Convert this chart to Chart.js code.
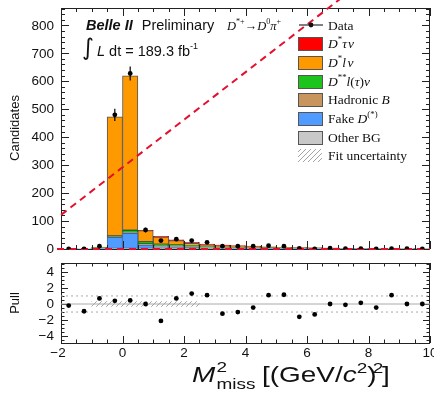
<!DOCTYPE html>
<html>
<head>
<meta charset="utf-8">
<script src="https://cdn.jsdelivr.net/npm/chart.js@4.4.0/dist/chart.umd.min.js"></script>
<style>
  body { margin: 0; background: #fff; }
  #wrap { position: relative; width: 434px; height: 395px; }
  canvas { position: absolute; left: 0; }
  #top { top: 0; }
  #pull { top: 258px; }
</style>
</head>
<body>
<div id="wrap">
  <canvas id="top" width="434" height="258"></canvas>
  <canvas id="pull" width="434" height="137"></canvas>
</div>
<script>
// bins of 0.5 (GeV/c^2)^2 from -2 to 10
const binCenters = [-1.75, -1.25, -0.75, -0.25, 0.25, 0.75, 1.25, 1.75, 2.25, 2.75, 3.25, 3.75,
  4.25, 4.75, 5.25, 5.75, 6.25, 6.75, 7.25, 7.75, 8.25, 8.75, 9.25, 9.75];

// stacked components, bottom to top
const otherBG = [0.5, 0.5, 1, 2, 2, 2, 2, 2, 2, 2, 1, 1, 1, 1, 1, 1, 1, 0.8, 0.8, 0.7, 0.7, 0.6, 0.6, 0.5];
const fakeD   = [0, 0.5, 3, 40, 54, 12, 5, 4, 3, 2, 2, 2, 2, 1, 1, 1, 1, 0.7, 0.6, 0.5, 0.5, 0.4, 0.4, 0.3];
const hadB    = [0, 0, 0.5, 2, 3, 4, 4, 4, 4, 4, 3, 3, 3, 3, 2, 2, 1.5, 1.2, 0.9, 0.7, 0.7, 0.5, 0.5, 0.3];
const dssLnu  = [0, 0, 0.5, 3, 8, 8, 6, 5, 4, 3, 2, 2, 1, 1, 1, 0.5, 0.3, 0.2, 0.1, 0.1, 0.1, 0, 0, 0];
const dLnu    = [0, 0, 2, 426, 552, 40, 26, 15, 7, 3, 2, 1, 1, 0.5, 0.3, 0, 0, 0, 0, 0, 0, 0, 0, 0];
const dTaunu  = [0, 0, 0, 0, 0, 1, 2, 3, 4, 4, 4, 3, 2, 1.5, 0.7, 0.5, 0.2, 0.1, 0, 0, 0, 0, 0, 0];

const dataCounts = [0, 0, 10, 480, 628, 68, 30, 35, 30, 24, 10, 10, 10, 12, 10, 2, 0, 3, 1, 1, 0, 1, 1, 0];
const dataErr    = [0, 0, 3, 22, 25, 8, 5.5, 6, 5.5, 5, 3, 3, 3, 3.5, 3, 1.4, 0, 1.7, 1, 1, 0, 1, 1, 0];

const pullValues = [-0.2, -0.9, 0.7, 0.4, 0.45, 0, -2.1, 0.7, 1.3, 1.1, -1.2, -1.0, -0.45, 1.1, 1.15,
  -1.6, -1.3, 0, -0.1, 0.15, -0.45, 1.1, 0, 0];
const bandCenters = [-0.75, -0.25, 0.25, 0.75, 1.25, 1.75, 2.25];
const bandLow  = [-0.3, -0.3, -0.3, -0.3, -0.3, -0.3, -0.3];
const bandHigh = [0.3, 0.3, 0.3, 0.3, 0.3, 0.3, 0.3];

// red dashed annotation lines
const diagX = [-2, 10];
const diagY = [122, 1143];
const zeroX = [-2.13, 10];
const zeroY = [0, 0];

const xTicks = [-2, 0, 2, 4, 6, 8, 10];
const yTicks = [0, 100, 200, 300, 400, 500, 600, 700, 800];
const pullTicks = [-4, -2, 0, 2, 4];
const pullLineX = [-2, 10];

const legendLabels = ["Data", "D*τν", "D*lν", "D**l(τ)ν", "Hadronic B", "Fake D(*)", "Other BG", "Fit uncertainty"];

const col = {
  other: "#c8c8c8", fake: "#4f9bff", hadb: "#c9955f", dss: "#1cc41c", dl: "#ff9900", tau: "#ff0000",
  red: "#e3102e"
};

const SANS = '"Liberation Sans", Arial, sans-serif';
const SERIF = '"Liberation Serif", "Times New Roman", serif';

function pts(xs, ys) {
  return xs.map((x, i) => ({ x: x, y: ys[i] }));
}

function hatchPattern(ctx) {
  const c = document.createElement("canvas");
  c.width = 5; c.height = 5;
  const g = c.getContext("2d");
  g.strokeStyle = "#9a9a9a";
  g.lineWidth = 0.9;
  g.beginPath();
  g.moveTo(-1, 6); g.lineTo(6, -1);
  g.moveTo(-1, 1); g.lineTo(1, -1);
  g.moveTo(4, 6); g.lineTo(6, 4);
  g.stroke();
  return ctx.createPattern(c, "repeat");
}

// draws text made of styled pieces: i = italic, b = bold, ^ = superscript, _ = subscript
function rich(ctx, x, y, parts, size, family) {
  let cx = x;
  parts.forEach((p) => {
    const s = p.s || "";
    const small = s.includes("^") || s.includes("_");
    const fs = small ? size * (p.r || 0.65) : size;
    const dy = s.includes("^") ? -size * 0.42 : s.includes("_") ? size * 0.28 : 0;
    ctx.font = (s.includes("i") ? "italic " : "") + (s.includes("b") ? "bold " : "") + fs + "px " + (p.f || family);
    ctx.fillText(p.t, cx, y + dy);
    cx += ctx.measureText(p.t).width + (p.k || 0);
  });
  return cx;
}

const minus = (v) => (v < 0 ? "\u2212" + Math.abs(v) : String(v));

// ROOT-like frame: box, inward ticks on all four sides, tick labels
function frameTicks(cfg) {
  return {
    id: "frameTicks",
    afterDatasetDraw(chart, args) {
      if (args.index !== 0) return;
      const ctx = chart.ctx, a = chart.chartArea;
      const sx = chart.scales.x, sy = chart.scales.y;
      const isMajor = (arr, v) => arr.some((m) => Math.abs(m - v) < 1e-6);
      ctx.save();
      ctx.strokeStyle = "#222";
      ctx.lineWidth = 1;
      ctx.beginPath();
      for (let v = sx.min; v <= sx.max + 1e-9; v += cfg.xMinor) {
        const p = Math.round(sx.getPixelForValue(v)) + 0.5;
        const len = isMajor(cfg.xMajor, v) ? cfg.xLen : cfg.xLen / 2;
        ctx.moveTo(p, a.bottom); ctx.lineTo(p, a.bottom - len);
        ctx.moveTo(p, a.top); ctx.lineTo(p, a.top + len);
      }
      const y0 = Math.ceil((sy.min - 1e-9) / cfg.yMinor) * cfg.yMinor;
      for (let v = y0; v <= sy.max + 1e-9; v += cfg.yMinor) {
        const p = Math.round(sy.getPixelForValue(v)) + 0.5;
        const len = isMajor(cfg.yMajor, v) ? cfg.yLen : cfg.yLen / 2;
        ctx.moveTo(a.left, p); ctx.lineTo(a.left + len, p);
        ctx.moveTo(a.right, p); ctx.lineTo(a.right - len, p);
      }
      ctx.stroke();
      ctx.strokeRect(Math.round(a.left) + 0.5, Math.round(a.top) + 0.5,
        Math.round(a.right - a.left) - 1, Math.round(a.bottom - a.top));

      ctx.fillStyle = "#111";
      ctx.font = "13.5px " + SANS;
      ctx.textAlign = "right";
      ctx.textBaseline = "middle";
      cfg.yMajor.forEach((v) => ctx.fillText(minus(v), a.left - 7, sy.getPixelForValue(v) + 0.5));
      if (cfg.xLabels) {
        ctx.textAlign = "center";
        ctx.textBaseline = "top";
        cfg.xMajor.forEach((v) => ctx.fillText(minus(v), sx.getPixelForValue(v) - (v < 0 ? 3 : 0), a.bottom + 4));
      }
      ctx.restore();
    }
  };
}

const errorBars = {
  id: "errorBars",
  afterDatasetDraw(chart, args) {
    if (chart.data.datasets[args.index].label !== "Data") return;
    const ctx = chart.ctx, sx = chart.scales.x, sy = chart.scales.y2;
    ctx.save();
    ctx.strokeStyle = "#000";
    ctx.lineWidth = 1.2;
    ctx.beginPath();
    binCenters.forEach((x, i) => {
      if (!dataErr[i]) return;
      const px = sx.getPixelForValue(x);
      ctx.moveTo(px, sy.getPixelForValue(dataCounts[i] - dataErr[i]));
      ctx.lineTo(px, sy.getPixelForValue(dataCounts[i] + dataErr[i]));
    });
    ctx.stroke();
    ctx.restore();
  }
};

const topTexts = {
  id: "topTexts",
  afterDraw(chart) {
    const ctx = chart.ctx;
    ctx.save();
    ctx.fillStyle = "#111";
    ctx.textBaseline = "alphabetic";

    rich(ctx, 86, 29.5, [{ t: "Belle II", s: "bi", k: 9 }, { t: "Preliminary" }], 14.5, SANS);
    ctx.font = "23px \"DejaVu Sans\", sans-serif";
    ctx.fillText("∫", 82, 55);
    rich(ctx, 97, 55.5, [{ t: "L", s: "i", k: 4 }, { t: "dt = 189.3 fb" }, { t: "-1", s: "^", r: 0.62 }], 14.5, SANS);

    rich(ctx, 227, 29.5, [{ t: "D", s: "i" }, { t: "*+", s: "^" }, { t: "→" }, { t: "D", s: "i" },
      { t: "0", s: "^" }, { t: "π", s: "i" }, { t: "+", s: "^" }], 12.5, SERIF);

    // legend
    const bx = 298, bw = 24, bh = 13, tx = 328, fs = 13.5;
    const rows = [25, 43.5, 62.2, 81, 99.7, 118.4, 137.1, 155.8];
    ctx.strokeStyle = "#000";
    ctx.lineWidth = 1;
    ctx.beginPath();
    ctx.moveTo(bx + 1, rows[0]); ctx.lineTo(bx + bw + 1, rows[0]);
    ctx.stroke();
    ctx.beginPath();
    ctx.arc(bx + 13, rows[0], 2.4, 0, Math.PI * 2);
    ctx.fill();
    const boxes = [col.tau, col.dl, col.dss, col.hadb, col.fake, col.other];
    boxes.forEach((c, i) => {
      const y = Math.round(rows[i + 1] - bh / 2) + 0.5;
      ctx.fillStyle = c;
      ctx.fillRect(bx + 0.5, y, bw, bh);
      ctx.strokeStyle = "#555";
      ctx.strokeRect(bx + 0.5, y, bw, bh);
    });
    ctx.fillStyle = hatchPattern(ctx);
    ctx.fillRect(bx, Math.round(rows[7] - bh / 2), bw, bh);

    ctx.fillStyle = "#111";
    const bl = 4.6;
    const labelParts = [
      [{ t: legendLabels[0] }],
      [{ t: "D", s: "i" }, { t: "*", s: "^" }, { t: "τ", s: "i", k: 1 }, { t: "ν", s: "i" }],
      [{ t: "D", s: "i" }, { t: "*", s: "^" }, { t: "l", s: "i", k: 1.5 }, { t: "ν", s: "i" }],
      [{ t: "D", s: "i" }, { t: "**", s: "^" }, { t: "l", s: "i" }, { t: "(" }, { t: "τ", s: "i" }, { t: ")" }, { t: "ν", s: "i" }],
      [{ t: "Hadronic " }, { t: "B", s: "i" }],
      [{ t: "Fake " }, { t: "D", s: "i" }, { t: "(*)", s: "^" }],
      [{ t: legendLabels[6] }],
      [{ t: legendLabels[7] }]
    ];
    labelParts.forEach((parts, i) => rich(ctx, tx, rows[i] + bl, parts, fs, SERIF));

    // y axis title
    ctx.font = "13px " + SANS;
    ctx.textAlign = "center";
    ctx.translate(19, 128);
    ctx.rotate(-Math.PI / 2);
    ctx.fillText("Candidates", 0, 0);
    ctx.restore();
  }
};

const pullTexts = {
  id: "pullTexts",
  afterDraw(chart) {
    const ctx = chart.ctx;
    ctx.save();
    ctx.fillStyle = "#111";
    ctx.font = "13px " + SANS;
    ctx.textAlign = "center";
    ctx.save();
    ctx.translate(19, 45);
    ctx.rotate(-Math.PI / 2);
    ctx.fillText("Pull", 0, 0);
    ctx.restore();

    // x axis title, slightly widened like the original
    ctx.textAlign = "left";
    ctx.translate(192, 124);
    ctx.scale(1.27, 1);
    const fs = 22;
    ctx.font = "italic " + fs + "px " + SANS;
    ctx.fillText("M", 0, 0);
    const mw = ctx.measureText("M").width;
    ctx.font = fs * 0.68 + "px " + SANS;
    ctx.fillText("2", mw + 1, -fs * 0.45);
    ctx.fillText("miss", mw + 1, fs * 0.33);
    let x = mw + 1 + ctx.measureText("miss").width + 5;
    x = rich(ctx, x, 0, [{ t: "[(GeV/" }, { t: "c", s: "i" }, { t: "2", s: "^", r: 0.68 }, { t: ")" }], fs, SANS);
    rich(ctx, x - 3, 0, [{ t: "2", s: "^", r: 0.68, k: -1 }, { t: "]" }], fs, SANS);
    ctx.restore();
  }
};

new Chart(document.getElementById("top"), {
  type: "bar",
  data: {
    datasets: [
      { label: "Other BG", data: pts(binCenters, otherBG), backgroundColor: col.other, borderColor: "#666", order: 5 },
      { label: "Fake D", data: pts(binCenters, fakeD), backgroundColor: col.fake, borderColor: "#3767b0", order: 5 },
      { label: "Hadronic B", data: pts(binCenters, hadB), backgroundColor: col.hadb, borderColor: "#85603a", order: 5 },
      { label: "D**", data: pts(binCenters, dssLnu), backgroundColor: col.dss, borderColor: "#0b6e0b", order: 5 },
      { label: "D*lnu", data: pts(binCenters, dLnu), backgroundColor: col.dl, borderColor: "#555", order: 5 },
      { label: "D*taunu", data: pts(binCenters, dTaunu), backgroundColor: col.tau, borderColor: "#b00000", order: 5 },
      {
        type: "line", label: "Data", data: pts(binCenters, dataCounts), yAxisID: "y2", showLine: false,
        pointRadius: 2.4, pointBackgroundColor: "#000", pointBorderWidth: 0, order: 0
      },
      {
        type: "line", label: "diag", data: pts(diagX, diagY), yAxisID: "y2", borderColor: col.red,
        borderWidth: 2, borderDash: [7, 5], pointRadius: 0, clip: false, order: 1
      },
      {
        type: "line", label: "zero", data: pts(zeroX, zeroY), yAxisID: "y2", borderColor: col.red,
        borderWidth: 2, borderDash: [7, 5], pointRadius: 0, clip: false, order: 1
      }
    ]
  },
  options: {
    responsive: false,
    animation: false,
    events: [],
    datasets: { bar: { barPercentage: 1, categoryPercentage: 1, borderWidth: 1, borderSkipped: false } },
    layout: { padding: { top: 8, right: 3, bottom: 9, left: 61 } },
    plugins: { legend: { display: false }, tooltip: { enabled: false } },
    scales: {
      x: { type: "linear", min: -2, max: 10, stacked: true, offset: false, display: false },
      y: { stacked: true, min: 0, max: 862, display: false },
      y2: { min: 0, max: 862, display: false }
    }
  },
  plugins: [frameTicks({ xMajor: xTicks, xMinor: 0.5, xLen: 8, yMajor: yTicks, yMinor: 20, yLen: 8 }), errorBars, topTexts]
});

new Chart(document.getElementById("pull"), {
  type: "bar",
  data: {
    datasets: [
      {
        label: "band", data: bandCenters.map((x, i) => ({ x: x, y: [bandLow[i], bandHigh[i]] })),
        backgroundColor: (c) => hatchPattern(c.chart.ctx), borderWidth: 0, barPercentage: 1, categoryPercentage: 1, order: 5
      },
      {
        type: "line", data: pts(pullLineX, [0, 0]), borderColor: "#aaa", borderWidth: 1, pointRadius: 0, order: 2
      },
      {
        type: "line", data: pts(pullLineX, [1, 1]), borderColor: "#aaa", borderWidth: 1, borderDash: [2, 3], pointRadius: 0, order: 2
      },
      {
        type: "line", data: pts(pullLineX, [-1, -1]), borderColor: "#aaa", borderWidth: 1, borderDash: [2, 3], pointRadius: 0, order: 2
      },
      {
        type: "line", label: "pull", data: pts(binCenters, pullValues), showLine: false,
        pointRadius: 2.4, pointBackgroundColor: "#000", pointBorderWidth: 0, order: 0
      }
    ]
  },
  options: {
    responsive: false,
    animation: false,
    events: [],
    layout: { padding: { top: 5, right: 3, bottom: 52, left: 61 } },
    plugins: { legend: { display: false }, tooltip: { enabled: false } },
    scales: {
      x: { type: "linear", min: -2, max: 10, offset: false, display: false },
      y: { min: -4.85, max: 5.1, display: false }
    }
  },
  plugins: [frameTicks({ xMajor: xTicks, xMinor: 0.5, xLen: 7, yMajor: pullTicks, yMinor: 0.5, yLen: 7, xLabels: true }), pullTexts]
});
</script>
</body>
</html>
